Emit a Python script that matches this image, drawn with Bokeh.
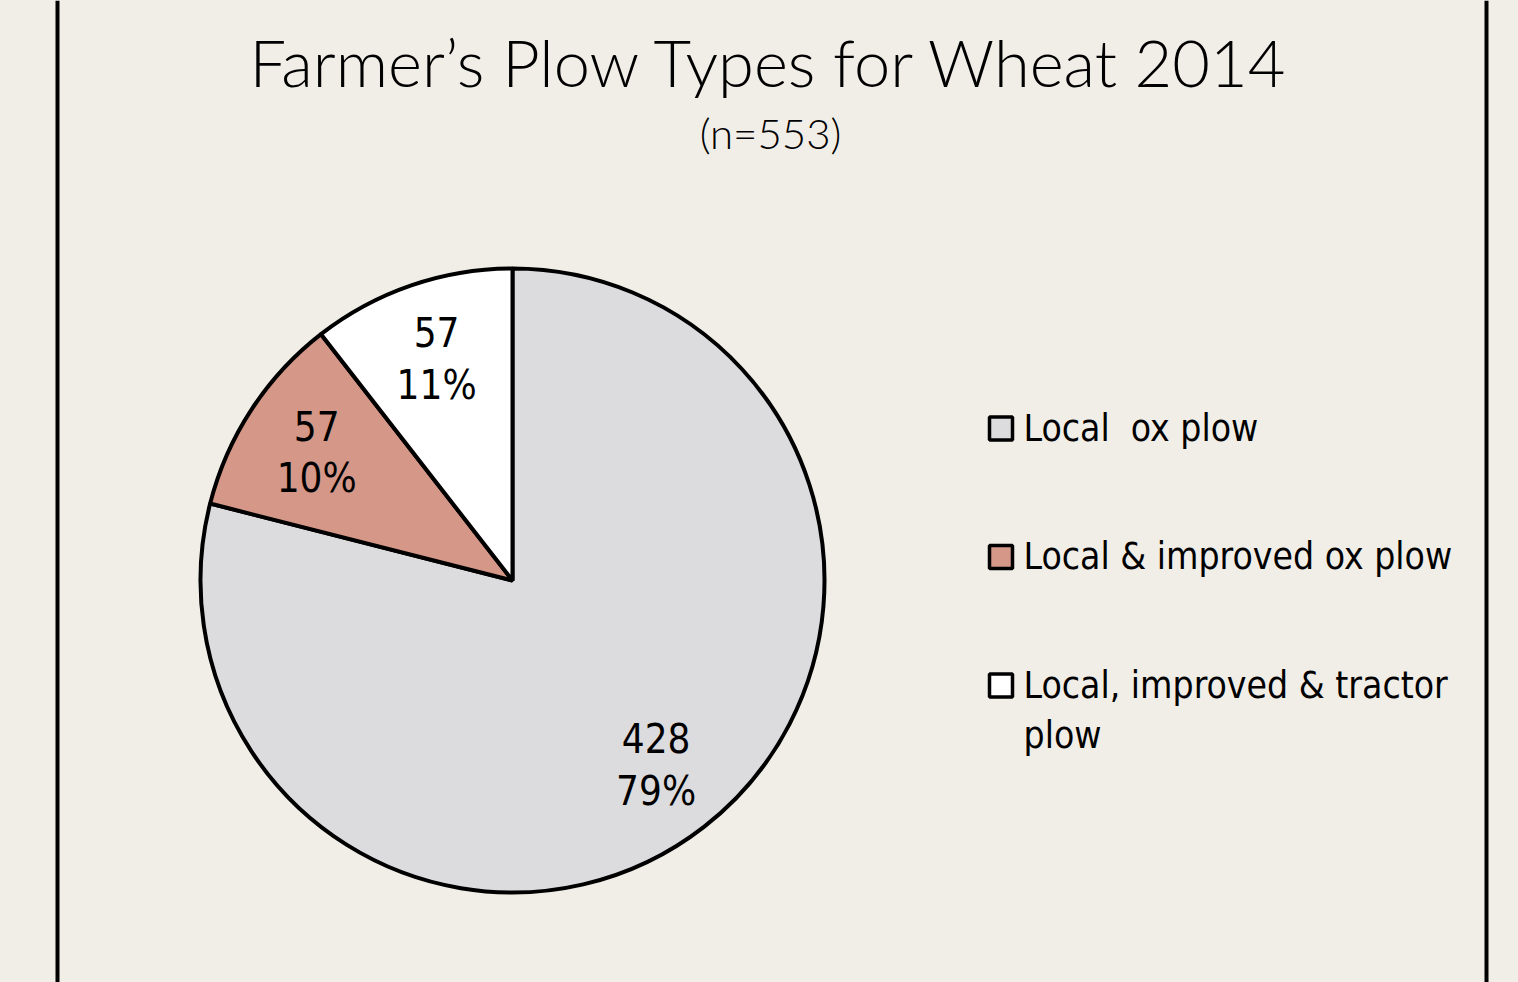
import numpy as np
from bokeh.plotting import figure
from bokeh.models import ColumnDataSource, Range1d, Label, Span
from bokeh.core.properties import value
from bokeh.embed import file_html
from bokeh.resources import INLINE

# ---- data ----
title_text = "Farmer\u2019s Plow Types for Wheat 2014"
subtitle_text = "(n=553)"
categories = ["Local\u00a0\u00a0ox plow", "Local & improved ox plow", "Local, improved & tractor\nplow"]
counts = [428, 57, 57]
pct_labels = ["79%", "10%", "11%"]
colors = ["#dcdcde", "#d59787", "#ffffff"]

BG = "#f1eee8"
NARROW = "'Liberation Sans Narrow', 'Arial Narrow', 'DejaVu Sans Condensed', sans-serif"
TITLE_FONT = "'Lato Light', Lato, sans-serif"

W, H = 1518, 982
R_PX = 312.0                   # pixels per data unit (pie radius = 1)
cx_px, cy_px = 512.0, 580.0    # pie center in page pixels (from top-left)

x_range = Range1d(-cx_px / R_PX, (W - cx_px) / R_PX)
y_range = Range1d(-(H - cy_px) / R_PX, cy_px / R_PX)

p = figure(width=W, height=H, x_range=x_range, y_range=y_range,
           output_backend="svg", toolbar_location=None, min_border=0,
           background_fill_color=BG, border_fill_color=BG)
p.axis.visible = False
p.grid.visible = False
p.outline_line_color = None

# ---- pie ----
vals = np.array(counts, dtype=float)
frac = vals / vals.sum()
ang = frac * 2 * np.pi
start = np.pi / 2 - np.concatenate([[0], np.cumsum(ang)[:-1]])
end = start - ang
mid = (start + end) / 2

src = ColumnDataSource(dict(start=start, end=end, color=colors,
                            lx=0.75 * np.cos(mid), ly=0.75 * np.sin(mid),
                            lab=[f"{c}\n{pc}" for c, pc in zip(counts, pct_labels)]))
p.wedge(x=0, y=0, radius=1, start_angle="start", end_angle="end", direction="clock",
        fill_color="color", line_color="black", line_width=4, source=src)
p.text(x="lx", y="ly", text="lab", source=src, text_align="center", text_baseline="middle",
       text_font=value(NARROW), text_font_size="40px", text_color="black", text_line_height=1.12)

# ---- legend ----
n = len(categories)
leg_x = (1000.5 - cx_px) / R_PX
leg_y0 = (cy_px - 428) / R_PX
leg_step = 128.5 / R_PX
leg_src = ColumnDataSource(dict(x=[leg_x] * n, y=[leg_y0 - i * leg_step for i in range(n)],
                                color=colors, tx=[leg_x + 22.5 / R_PX] * n, lab=categories))
p.scatter(x="x", y="y", marker="square", size=23, fill_color="color", line_color="black",
          line_width=3.5, source=leg_src)
p.text(x="tx", y="y", text="lab", source=leg_src, text_align="left", text_baseline="top",
       y_offset=-22, text_font=value(NARROW), text_font_size="37px", text_color="black",
       text_line_height=1.17)

# ---- titles ----
p.add_layout(Label(x=(770 - cx_px) / R_PX, y=(cy_px - 61) / R_PX, text=title_text,
                   text_align="center", text_baseline="middle", text_font=TITLE_FONT,
                   text_font_size="65px", text_color="black"))
p.add_layout(Label(x=(770 - cx_px) / R_PX, y=(cy_px - 132) / R_PX, text=subtitle_text,
                   text_align="center", text_baseline="middle", text_font=TITLE_FONT,
                   text_font_size="42px", text_color="black"))

# ---- frame lines ----
p.add_layout(Span(location=(57 - cx_px) / R_PX, dimension="height", line_color="black", line_width=4))
p.add_layout(Span(location=(1486 - cx_px) / R_PX, dimension="height", line_color="black", line_width=4))

html = file_html(p, INLINE, title="Farmer's Plow Types for Wheat 2014")
style = f"<style>html, body {{ margin: 0; padding: 0; background: {BG}; overflow: hidden; }}</style>"
html = html.replace("</head>", style + "</head>", 1)
open("out.html", "w").write(html)
